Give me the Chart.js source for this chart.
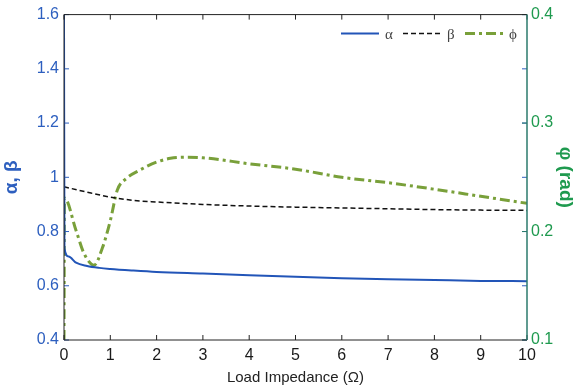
<!DOCTYPE html>
<html>
<head>
<meta charset="utf-8">
<script src="https://cdn.jsdelivr.net/npm/chart.js@4"></script>
<style>
  html, body { margin: 0; padding: 0; background: #fff; }
  #wrap { width: 582px; height: 387px; }
</style>
</head>
<body>
<div id="wrap"><canvas id="chart"></canvas></div>
<script>
// values
const alphaX = [0, 0.01, 0.1, 0.26, 0.5, 0.76, 1, 1.5, 2, 3, 4, 5, 6, 7, 8, 9, 10];
const alphaY = [1.6, 0.738, 0.708, 0.685, 0.673, 0.666, 0.662, 0.656, 0.651, 0.645, 0.639, 0.633, 0.628, 0.624, 0.621, 0.618, 0.617];
const betaX = [0, 0.5, 1, 1.5, 2, 3, 4, 5, 6, 7, 8, 9, 10];
const betaY = [0.965, 0.945, 0.927, 0.915, 0.909, 0.9, 0.894, 0.89, 0.887, 0.884, 0.881, 0.879, 0.878];
const phiX = [0, 0.01, 0.26, 0.43, 0.65, 0.83, 1.0, 1.15, 1.35, 1.63, 2, 2.3, 2.65, 3, 4, 5, 6, 7, 8, 9, 10];
const phiY = [0.1, 0.231, 0.201, 0.18, 0.169, 0.185, 0.21, 0.238, 0.249, 0.2565, 0.264, 0.2675, 0.2685, 0.268, 0.2625, 0.2575, 0.25, 0.245, 0.239, 0.2325, 0.226];
const seriesNames = ['α', 'β', 'ϕ'];

const BLUE = '#2d5fbf';
const GREEN = '#1f9a4f';
const PHI = '#79a03a';
const TEAL = '#2b7a6c';

function pts(xs, ys) {
  return xs.map((x, i) => ({ x: x, y: ys[i] }));
}
function fmt(v) {
  return String(Number(v.toFixed(2)));
}

// MATLAB-like inward ticks + legend inside the box
const extras = {
  id: 'extras',
  afterDraw(chart) {
    const ctx = chart.ctx;
    const a = chart.chartArea;
    const sx = chart.scales.x, sy = chart.scales.y, sy1 = chart.scales.y1;
    const L = 5;
    ctx.save();
    ctx.lineWidth = 1;
    ctx.strokeStyle = '#222';
    sx.ticks.forEach(t => {
      const px = sx.getPixelForValue(t.value);
      ctx.beginPath();
      ctx.moveTo(px, a.bottom); ctx.lineTo(px, a.bottom - L);
      ctx.moveTo(px, a.top); ctx.lineTo(px, a.top + L);
      ctx.stroke();
    });
    ctx.strokeStyle = BLUE;
    sy.ticks.forEach(t => {
      const py = sy.getPixelForValue(t.value);
      ctx.beginPath();
      ctx.moveTo(a.left, py); ctx.lineTo(a.left + L, py);
      ctx.moveTo(a.right, py); ctx.lineTo(a.right - L, py);
      ctx.stroke();
    });
    ctx.strokeStyle = TEAL;
    sy1.ticks.forEach(t => {
      const py = sy1.getPixelForValue(t.value);
      ctx.beginPath();
      ctx.moveTo(a.right, py); ctx.lineTo(a.right - L, py);
      ctx.stroke();
    });
    // box
    ctx.strokeStyle = '#222';
    ctx.beginPath();
    ctx.moveTo(a.left, a.bottom); ctx.lineTo(a.left, a.top); ctx.lineTo(a.right, a.top);
    ctx.moveTo(a.left, a.bottom); ctx.lineTo(a.right, a.bottom);
    ctx.stroke();
    ctx.strokeStyle = TEAL;
    ctx.lineWidth = 1.5;
    ctx.beginPath();
    ctx.moveTo(a.right, a.top); ctx.lineTo(a.right, a.bottom);
    ctx.stroke();

    // legend
    const y = a.top + 19;
    let x = a.right - 186;
    ctx.font = '15px "Liberation Serif"';
    ctx.textBaseline = 'middle';
    chart.data.datasets.forEach((ds, i) => {
      ctx.strokeStyle = ds.borderColor;
      ctx.lineWidth = ds.borderWidth;
      ctx.setLineDash(ds.borderDash || []);
      ctx.beginPath();
      ctx.moveTo(x, y); ctx.lineTo(x + 38, y);
      ctx.stroke();
      ctx.setLineDash([]);
      ctx.fillStyle = '#444';
      ctx.fillText(seriesNames[i], x + 44, y + 1);
      x += 62;
    });
    ctx.restore();
  }
};

new Chart(document.getElementById('chart'), {
  type: 'line',
  data: {
    datasets: [
      {
        label: 'α', data: pts(alphaX, alphaY), yAxisID: 'y',
        borderColor: '#2255b8', borderWidth: 2, pointRadius: 0,
        cubicInterpolationMode: 'monotone'
      },
      {
        label: 'β', data: pts(betaX, betaY), yAxisID: 'y',
        borderColor: '#111', borderWidth: 1.5, borderDash: [5, 3], pointRadius: 0,
        cubicInterpolationMode: 'monotone'
      },
      {
        label: 'ϕ', data: pts(phiX, phiY), yAxisID: 'y1',
        borderColor: PHI, borderWidth: 3, borderDash: [10, 4, 3, 4], pointRadius: 0,
        cubicInterpolationMode: 'monotone'
      }
    ]
  },
  options: {
    responsive: true,
    maintainAspectRatio: false,
    animation: false,
    layout: { padding: { top: 14, left: 0, right: 0, bottom: 0 } },
    plugins: {
      legend: { display: false },
      tooltip: { enabled: false }
    },
    scales: {
      x: {
        type: 'linear', min: 0, max: 10,
        grid: { display: false, drawTicks: false },
        border: { display: false },
        ticks: { stepSize: 1, color: '#1a1a1a', padding: 6, font: { family: 'Liberation Sans', size: 16 } },
        title: { display: true, text: 'Load Impedance (Ω)', color: '#222', padding: { top: 2, bottom: 0 },
                 font: { family: 'Liberation Sans', size: 15 } },
        afterFit(s) { s.height = 47; }
      },
      y: {
        position: 'left', min: 0.4, max: 1.6,
        grid: { display: false, drawTicks: false },
        border: { display: false },
        ticks: { stepSize: 0.2, color: BLUE, padding: 5, callback: v => fmt(v),
                 font: { family: 'Liberation Sans', size: 16 } },
        title: { display: true, text: 'α, β', color: BLUE, padding: { top: 0, bottom: 3 },
                 font: { family: 'Liberation Sans', size: 19, weight: 'bold' } },
        afterFit(s) { s.width = 64; }
      },
      y1: {
        position: 'right', min: 0.1, max: 0.4,
        grid: { display: false, drawTicks: false },
        border: { display: false },
        ticks: { stepSize: 0.1, color: GREEN, padding: 4, callback: v => fmt(v),
                 font: { family: 'Liberation Sans', size: 16 } },
        title: { display: true, text: 'φ (rad)', color: GREEN, padding: { top: 5, bottom: 0 },
                 font: { family: 'Liberation Sans', size: 19, weight: 'bold' } },
        afterFit(s) { s.width = 55; }
      }
    }
  },
  plugins: [extras]
});
</script>
</body>
</html>
